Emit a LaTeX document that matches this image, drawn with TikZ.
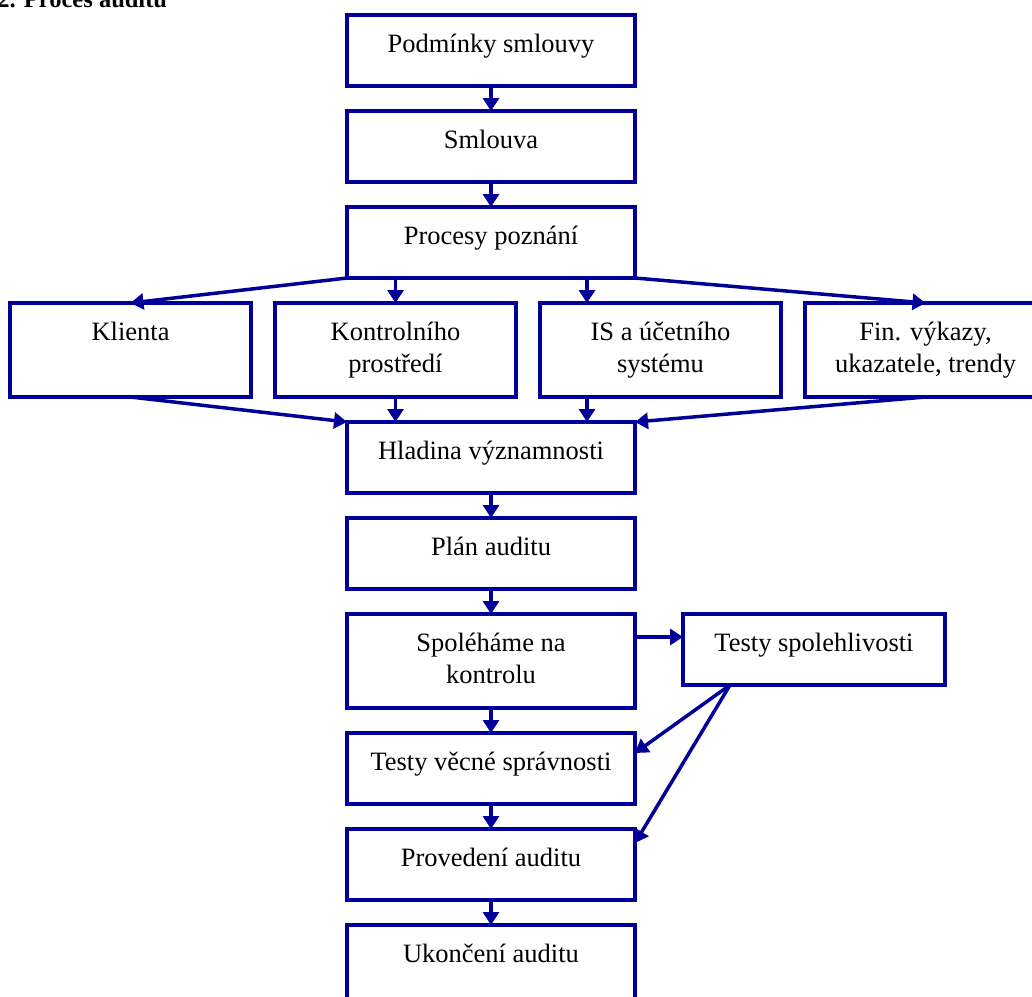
\documentclass[tikz,border=0pt]{standalone}
\usepackage{fontspec}
\setmainfont{Liberation Serif}
\usepackage{tikz}
\usetikzlibrary{arrows.meta}
\usetikzlibrary{calc,positioning}

\definecolor{audblue}{RGB}{0,0,153}

\begin{document}
\begin{tikzpicture}[x=0.5pt, y=-0.5pt,
        stage/.style={rectangle, draw=audblue, line width=2pt, inner sep=0pt, outer sep=0pt,
        minimum width=144pt, text height=18.5pt, text depth=17pt, align=center, text=black,
        font=\fontsize{13.25}{16}\selectfont},
        stagetall/.style={stage, text depth=28.5pt},
        twolines/.style={stage, text height=34.5pt, text depth=12.5pt},
        rowbox/.style={minimum width=120.5pt},
        link/.style={draw=audblue, line width=1.75pt, -{Triangle[width=8pt,length=6.5pt]}},
        node distance=12.5pt]
        \useasboundingbox (0,0) rectangle (1032,996);
        \clip (0,0) rectangle (1032,996);

        \node (title) [anchor=base west, inner sep=0pt, font=\bfseries\fontsize{12.25}{14}\selectfont] at (-3,7) {2. Proces auditu};

        \node (podm) [stage, anchor=north] at (491,15) {Podmínky smlouvy};
        \node (smlouva) [stage, below=of podm] {Smlouva};
        \node (procesy) [stage, below=of smlouva] {Procesy poznání};

        \coordinate (rowtop) at ([yshift=-12.5pt]procesy.south);
        \node (klienta) [stagetall, rowbox, anchor=north west] at (10,0 |- rowtop) {Klienta};
        \node (kontrol) [twolines, rowbox, right=12pt of klienta] {Kontrolního\\ prostředí};
        \node (is) [twolines, rowbox, right=12pt of kontrol] {IS a účetního\\ systému};
        \node (fin) [twolines, rowbox, right=12pt of is] {Fin. výkazy,\\ ukazatele, trendy};

        \node (hladina) [stage, anchor=north] at ($(kontrol.south -| procesy.south)+(0,-12.5pt)$) {Hladina významnosti};
        \node (plan) [stage, below=of hladina] {Plán auditu};
        \node (spol) [twolines, below=of plan] {Spoléháme na\\ kontrolu};
        \node (testy) [stage, minimum width=131pt, right=24pt of spol.north east, anchor=north west] {Testy spolehlivosti};
        \node (vecne) [stage, below=of spol] {Testy věcné správnosti};
        \node (proved) [stage, below=of vecne] {Provedení auditu};
        \node (ukonc) [stagetall, below=of proved] {Ukončení auditu};

        \draw [link] (podm) -- (smlouva);
        \draw [link] (smlouva) -- (procesy);

        \coordinate (isx) at ([xshift=48pt]procesy.south);
        \draw [link] (procesy.south west) -- (klienta.north);
        \draw [link] (kontrol.north |- procesy.south) -- (kontrol.north);
        \draw [link] (isx) -- (isx |- is.north);
        \draw [link] (procesy.south east) -- (fin.north);

        \draw [link] (klienta.south) -- (hladina.north west);
        \draw [link] (kontrol.south) -- (kontrol.south |- hladina.north);
        \draw [link] (isx |- is.south) -- (isx |- hladina.north);
        \draw [link] (fin.south) -- (hladina.north east);

        \draw [link] (hladina) -- (plan);
        \draw [link] (plan) -- (spol);

        \coordinate (sp) at ([yshift=-11.5pt]spol.north east);
        \draw [link] (sp) -- (sp -| testy.west);
        \draw [link] (spol) -- (vecne);
        \draw [link] (vecne) -- (proved);
        \draw [link] (proved) -- (ukonc);

        \coordinate (tsp) at ([xshift=23.5pt]testy.south west);
        \draw [link] (tsp) -- ([yshift=-10pt]vecne.north east);
        \draw [link] (tsp) -- ([yshift=-7pt]proved.north east);
    \end{tikzpicture}
\end{document}
